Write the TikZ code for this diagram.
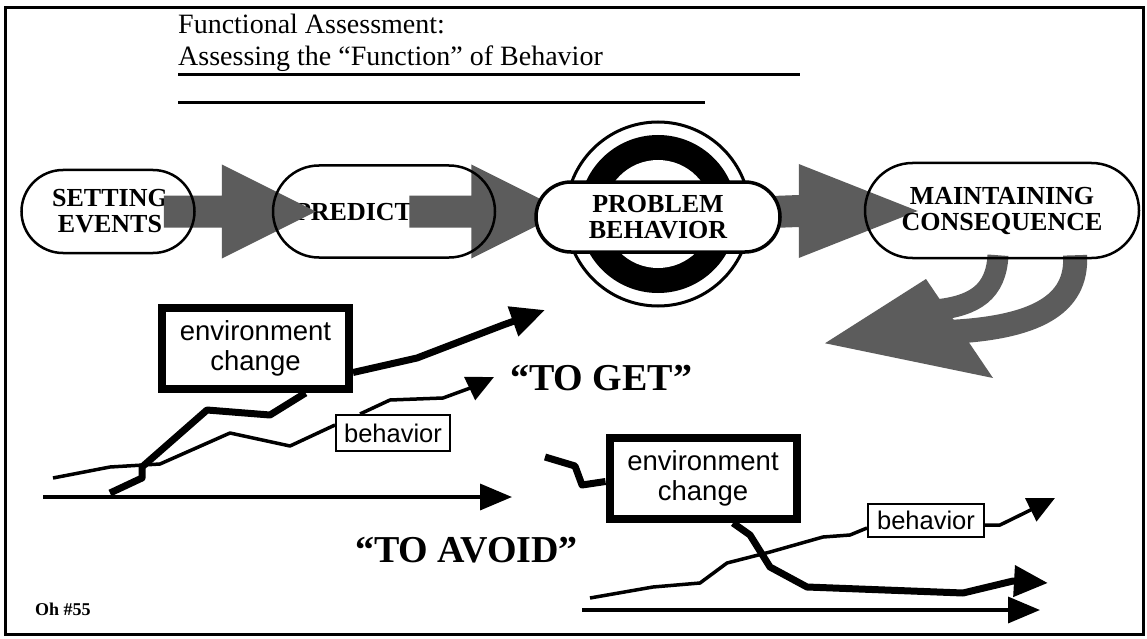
\documentclass[tikz,border=0pt]{standalone}
\usepackage{fontspec}
\setmainfont{Liberation Serif}
\newfontfamily\hv{Liberation Sans}
\usetikzlibrary{shapes.misc,calc,arrows.meta}
\pgfdeclarelayer{bg}
\pgfdeclarelayer{txt}
\pgfdeclarelayer{arr}
\pgfsetlayers{bg,txt,arr,main}
\newcommand\fatarrow[3]{%
  \fill[fat] ($(#1)+(0,-16)$) -- ($(#2)+(-#3,-16)$) -- ($(#2)+(-#3,-47)$) -- (#2)
    -- ($(#2)+(-#3,47)$) -- ($(#2)+(-#3,16)$) -- ($(#1)+(0,16)$) -- cycle;}
\begin{document}
\begin{tikzpicture}[x=1pt,y=-1pt,
  pill/.style={rounded rectangle, line width=2.5pt, inner sep=0pt},
  pilltxt/.style={align=center, font=\fontsize{26}{26}\selectfont\bfseries, inner sep=0pt},
  fat/.style={fill=black!64},
  band/.style={draw=black!64, line cap=butt},
  envbox/.style={draw, line width=8pt, font=\hv\fontsize{27.5}{30}\selectfont, align=center, inner sep=0pt, minimum width=187pt, minimum height=81pt},
  behbox/.style={draw, line width=2pt, font=\hv\fontsize{25.5}{27}\selectfont, inner sep=0pt},
  thickline/.style={line width=7pt, line join=round},
  thinline/.style={line width=3.5pt, line join=round},
  axisline/.style={line width=3.5pt, -{Triangle[length=32pt,width=26pt]}},
  bigtext/.style={font=\fontsize{38}{40}\selectfont\bfseries, anchor=base west, inner sep=0pt},
  titletext/.style={font=\fontsize{28}{30}\selectfont, anchor=base west, inner sep=0pt}]
\useasboundingbox (0,0) rectangle (1147,639);
\begin{pgfonlayer}{bg}
\fill[white] (0,0) rectangle (1147,639);
\end{pgfonlayer}
\draw[line width=3pt] (5,8) rectangle (1143,634);

% title
\node[titletext] (t1) at (178,34) {Functional Assessment:};
\node[titletext] (t2) at (178,66) {Assessing the “Function” of Behavior};
\draw[line width=3pt] (178,75) -- (800,75);
\draw[line width=3pt] (178,103) -- (705,103);

% pills (outlines on main layer)
\node[pill, draw, minimum width=173pt, minimum height=83pt] (se) at (108,211.5) {};
\node[pill, draw, minimum width=222pt, minimum height=92pt] (pr) at (384,211.5) {};
\node[pill, draw, fill=white, line width=3.5pt, minimum width=244pt, minimum height=70pt, pilltxt] (pb) at (658,217) {PROBLEM\\BEHAVIOR};
\node[pill, draw, minimum width=274pt, minimum height=95pt, pilltxt] (mc) at (1002,210.5) {MAINTAINING\\CONSEQUENCE};

\begin{pgfonlayer}{txt}
\node[pilltxt] (set) at (110,211) {SETTING\\EVENTS};
\node[pilltxt] (prt) at (380,212) {PREDICTORS};
\end{pgfonlayer}

\begin{pgfonlayer}{arr}
% target
\coordinate (tc) at (658,214);
\fill (tc) circle (79pt);
\fill[white] (tc) circle (54pt);
\draw[line width=3pt] (tc) circle (92pt);
% fat arrows
\coordinate (a1s) at ($(se.east)+(-32,0)$);
\coordinate (a1t) at ($(pr.west)+(44,0)$);
\fatarrow{a1s}{a1t}{94}
\coordinate (a2s) at ($(pr.east)+(-87,0)$);
\coordinate (a2t) at ($(pr.east)+(69,0)$);
\fatarrow{a2s}{a2t}{94}
\coordinate (a3s) at ($(pb.east)+(-10,-5)$);
\coordinate (a3t) at ($(mc.west)+(54,0.5)$);
\fatarrow{a3s}{a3t}{119}
% feedback arrow
\coordinate (fbtip) at ($(mc.south)+(-177,84)$);
\fill[fat] (fbtip) -- (926,279) -- (993,378) -- cycle;
\draw[band, line width=21pt] ($(mc.south)+(-4,-4)$) .. controls (996,292) and (975,306) .. (935,310);
\draw[band, line width=24pt] ($(mc.south)+(73,-4)$) .. controls (1078,305) and (1035,328) .. (948,332);
\end{pgfonlayer}

% graph 1: "TO GET"
\coordinate (g1o) at (43,497);
\coordinate (g1e) at (512,497);
\draw[axisline] (g1o) -- (g1e);
\node[envbox] (env1) at (255.5,348.5) {environment\\change};
\node[behbox, minimum width=114pt, minimum height=36pt] (beh1) at (393,433) {behavior};
\coordinate (e1s) at (110,493);
\coordinate (e1e) at (545,310);
\draw[thickline] (e1s) -- (142,478) -- (142,467) -- (207,410) -- (270,415) -- ($(env1.south)+(50,0)$);
\draw[thickline, -{Triangle[length=34pt,width=30pt]}] ($(env1.east)+(0,24)$) -- (417,358) -- (503,325) -- (e1e);
\coordinate (b1s) at (53,478);
\coordinate (b1e) at (494,377);
\draw[thinline] (b1s) -- (110,467) -- (160,464) -- (230,433) -- (290,446) -- ($(beh1.west)+(0,-8)$);
\draw[thinline, -{Triangle[length=27pt,width=25pt]}] ($(beh1.north)+(-33,0)$) -- (390,400) -- (443,398) -- (473,387) -- (b1e);
\node[bigtext] (toget) at (510,390) {“TO GET”};

% graph 2: "TO AVOID"
\coordinate (g2o) at (582,610);
\coordinate (g2e) at (1040,610);
\draw[axisline] (g2o) -- (g2e);
\node[envbox] (env2) at (703,478.5) {environment\\change};
\node[behbox, minimum width=116pt, minimum height=33pt] (beh2) at (926,520.5) {behavior};
\coordinate (e2s) at (545,457);
\coordinate (e2e) at (1048,583);
\draw[thickline] (e2s) -- (575,466) -- (582,485) -- ($(env2.west)+(0,3)$);
\draw[thickline, -{Triangle[length=34pt,width=30pt]}] ($(env2.south)+(30,0)$) -- (750,535) -- (770,567) -- (807,587) -- (963,593) -- (1013,581) -- (e2e);
\coordinate (b2s) at (590,598);
\coordinate (b2e) at (1055,498);
\draw[thinline] (b2s) -- (653,587) -- (700,583) -- (727,563) -- (770,552) -- (823,537) -- (850,535) -- ($(beh2.west)+(0,7.5)$);
\draw[thinline, -{Triangle[length=27pt,width=25pt]}] ($(beh2.east)+(0,4.5)$) -- (1000,525) -- (b2e);
\node[bigtext] (toavoid) at (355,562) {“TO AVOID”};

\node[font=\fontsize{18}{20}\selectfont\bfseries, anchor=base west, inner sep=0pt] (oh) at (35,615) {Oh \#55};
\end{tikzpicture}
\end{document}
